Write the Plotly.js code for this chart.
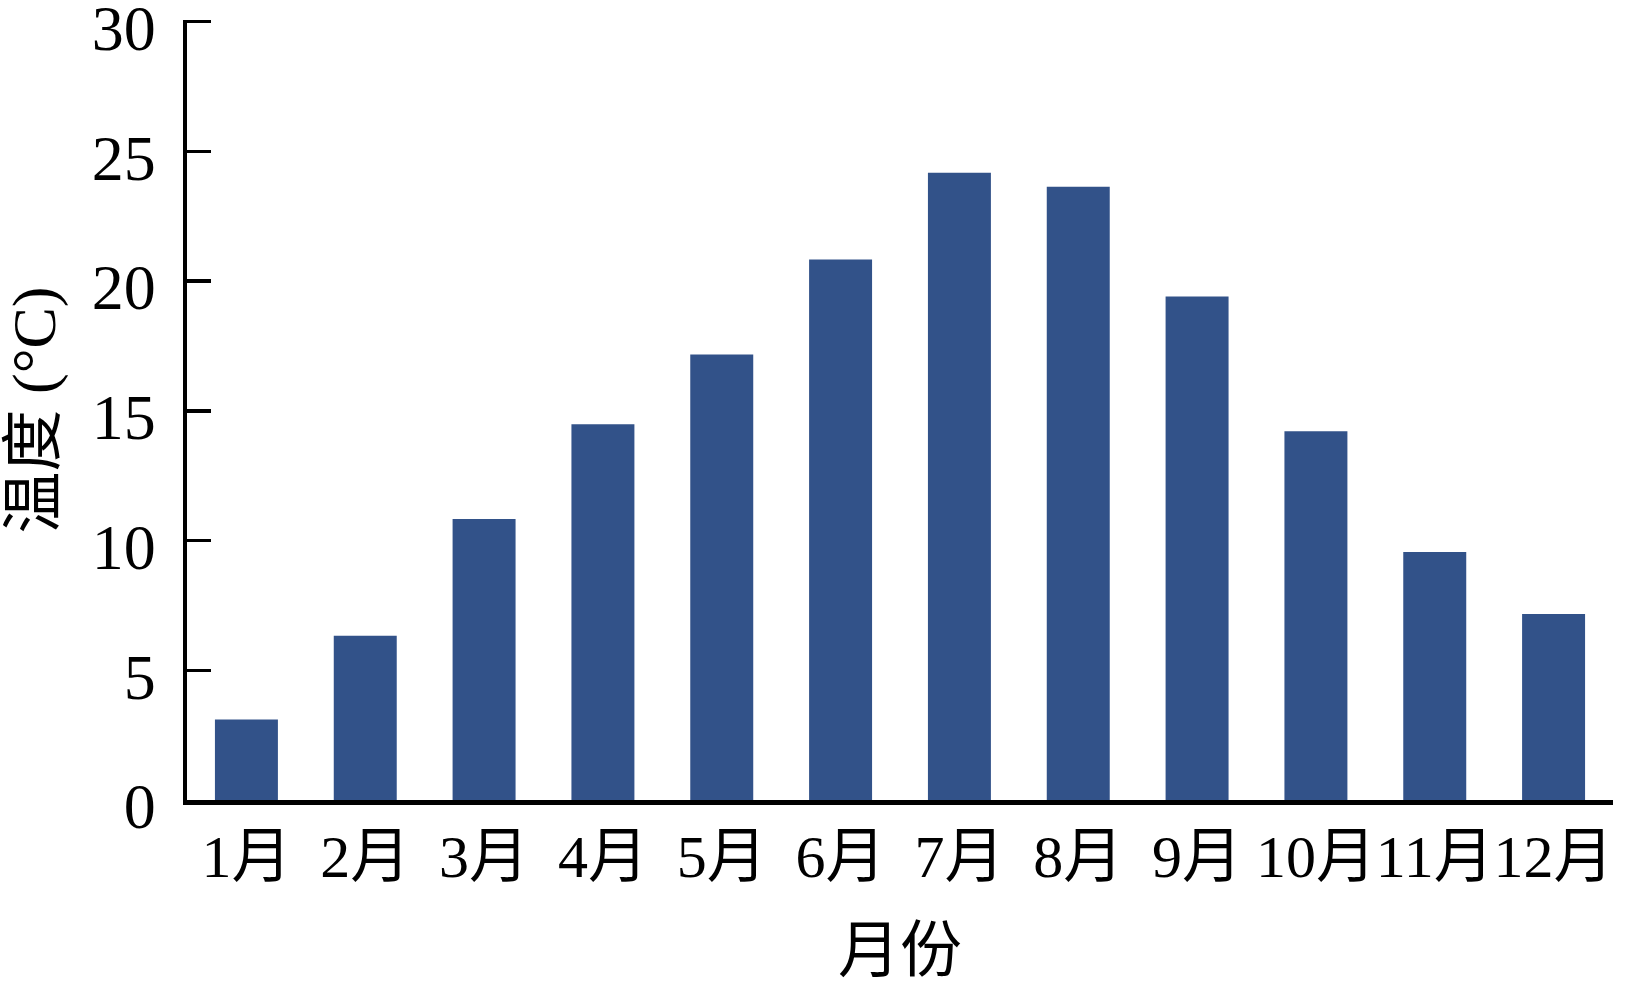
<!DOCTYPE html>
<html>
<head>
<meta charset="utf-8">
<script src="https://cdn.plot.ly/plotly-3.0.1.min.js"></script>
<style>html,body{margin:0;padding:0;background:#fff;}#chart{width:1627px;height:985px;}</style>
</head>
<body>
<div id="chart"></div>
<script>
const months = ["1月","2月","3月","4月","5月","6月","7月","8月","9月","10月","11月","12月"];
const temperature = [3.1, 6.33, 10.83, 14.48, 17.17, 20.83, 24.17, 23.63, 19.4, 14.21, 9.56, 7.17];
const yTicks = [0, 5, 10, 15, 20, 25, 30];

const fontFamily = '"Liberation Serif", "Times New Roman", "Noto Sans CJK SC", serif';

const trace = {
  type: 'bar',
  x: months,
  y: temperature,
  marker: {color: 'rgb(50,82,137)', line: {width: 0}},
  hoverinfo: 'x+y'
};

const layout = {
  width: 1627,
  height: 985,
  margin: {l: 187, r: 14, t: 20, b: 185, pad: 0},
  paper_bgcolor: '#fff',
  plot_bgcolor: '#fff',
  showlegend: false,
  bargap: 0.47,
  font: {family: fontFamily, size: 62, color: '#000'},
  xaxis: {
    type: 'category',
    showline: true,
    linecolor: '#000',
    linewidth: 4.5,
    ticks: '',
    showgrid: false,
    zeroline: false,
    tickangle: 0,
    automargin: false,
    ticklabeloverflow: 'allow',
    tickfont: {family: fontFamily, size: 60, color: '#000'},
    title: {text: '月份', font: {family: fontFamily, size: 62, color: '#000'}, standoff: 56}
  },
  yaxis: {
    range: [0, 30.06],
    tickmode: 'array',
    tickvals: yTicks,
    ticktext: yTicks.map(String),
    showline: true,
    linecolor: '#000',
    linewidth: 4.5,
    ticks: 'inside',
    ticklen: 24,
    tickwidth: 3.5,
    tickcolor: '#000',
    showgrid: false,
    zeroline: false,
    automargin: false,
    ticklabeloverflow: 'allow',
    ticklabelstandoff: 14,
    ticklabelshift: 6,
    tickfont: {family: fontFamily, size: 64, color: '#000'},
    title: {text: '温度 (°C)', font: {family: fontFamily, size: 62, color: '#000'}, standoff: 20}
  }
};

Plotly.newPlot('chart', [trace], layout, {displayModeBar: false, staticPlot: true});
</script>
</body>
</html>
